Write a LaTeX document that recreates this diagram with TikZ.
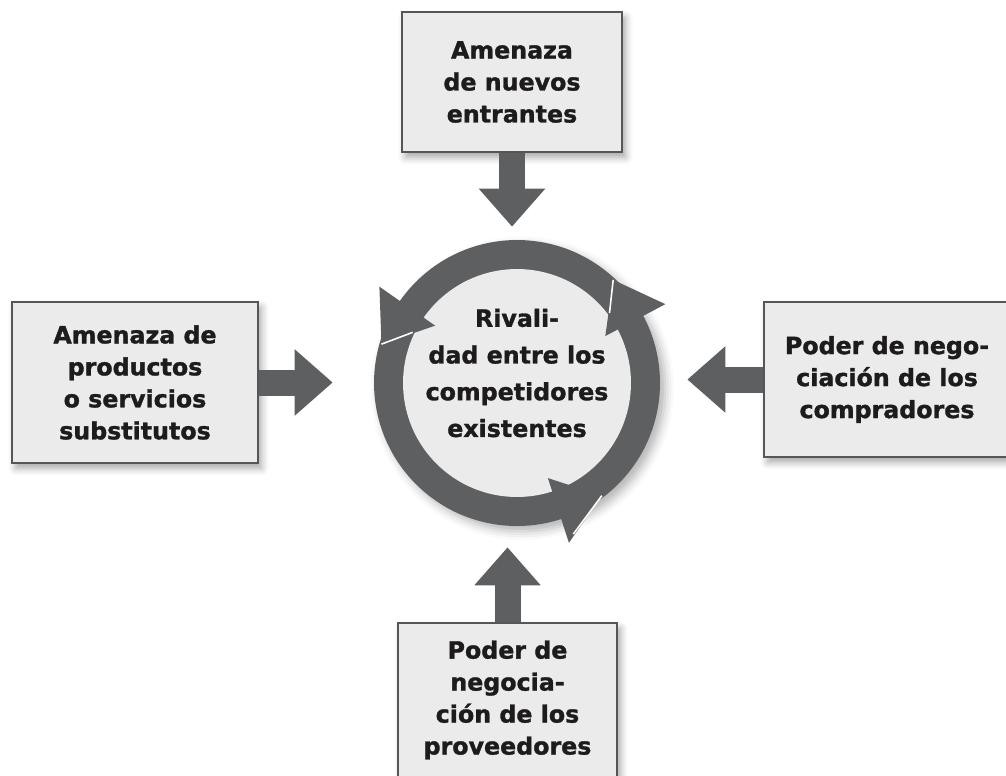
\documentclass[tikz,border=0pt]{standalone}
\usepackage{fontspec}
\setmainfont{DejaVu Sans}[BoldFeatures={FakeBold=1.3}]
\usepackage{tikz}
\usetikzlibrary{arrows.meta,positioning,calc,shadows.blur}
\definecolor{forcegray}{RGB}{94,95,97}
\definecolor{boxfill}{RGB}{235,235,235}
\definecolor{boxline}{RGB}{85,86,88}
\definecolor{txtdark}{RGB}{30,27,28}

\begin{document}
\begin{tikzpicture}[x=0.02cm,y=-0.02cm,
    forcebox/.style={draw=boxline, line width=1.1pt, fill=boxfill, text=txtdark,
        font=\fontsize{13.5}{18.2}\selectfont\bfseries, align=center, inner sep=0pt,
        blur shadow={shadow xshift=2pt, shadow yshift=-3pt, shadow blur radius=4pt, shadow opacity=35}},
    pusharrow/.style={draw=forcegray, line width=0.52cm, -{Triangle[width=1.28cm,length=0.76cm]}},
    headcut/.style={draw=white, line width=0.9pt}]
    \useasboundingbox (0,0) rectangle (1006,775);

    % The four forces
    \node[forcebox, minimum width=4.4cm, minimum height=2.8cm] (entrantes) at (512,82) {Amenaza\\de nuevos\\entrantes};
    \node[forcebox, minimum width=4.92cm, minimum height=3.22cm] (sustitutos) at (135,382.5) {Amenaza de\\productos\\o servicios\\substitutos};
    \node[forcebox, minimum width=4.92cm, minimum height=3.1cm] (compradores) at (887,379.5) {Poder de nego-\\ciación de los\\compradores};
    \node[forcebox, minimum width=4.38cm, minimum height=3.08cm] (proveedores) at (507.5,700) {Poder de\\negocia-\\ción de los\\proveedores};

    % Rivalry ring
    \node[circle, minimum size=5.72cm, inner sep=0pt, fill=forcegray,
        blur shadow={shadow xshift=3pt, shadow yshift=-3pt, shadow blur radius=5pt, shadow opacity=30}] (rival) at (517,383) {};
    \fill[boxfill] (rival.center) circle (2.28cm);
    \begin{scope}[shift={(rival.center)}, x=0.02cm, y=0.02cm]
        \foreach \b/\r/\t in {145/102/0.6, 28/102/0.6, -72/166/0.85} {
            \fill[forcegray] (\b:100) -- (\b:168) -- (\b+19:141) -- cycle;
            \draw[headcut] (\b+19:141) -- ($(\b+19:141)!\t!(\b:\r)$);
        }
    \end{scope}
    \node[text=txtdark, font=\fontsize{13.5}{20.9}\selectfont\bfseries, align=center] (rivaltxt)
        at ([yshift=0.2cm]rival.center) {Rivali-\\dad entre los\\competidores\\existentes};

    % Arrows into the ring
    \draw[pusharrow, shorten >=0.26cm] (entrantes.south) -- (entrantes.south |- rival.north);
    \draw[pusharrow, shorten >=0.42cm] (proveedores.north) -- (proveedores.north |- rival.south);
    \draw[pusharrow, shorten >=0.82cm] (sustitutos.east) -- (sustitutos.east -| rival.west);
    \draw[pusharrow, shorten >=0.54cm] (compradores.west) -- (compradores.west -| rival.east);
\end{tikzpicture}
\end{document}
